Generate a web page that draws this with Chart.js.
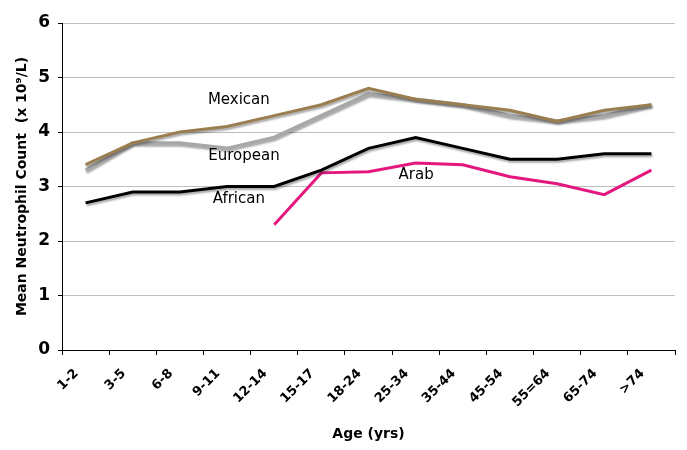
<!DOCTYPE html>
<html>
<head>
<meta charset="utf-8">
<script src="https://cdn.jsdelivr.net/npm/chart.js@4"></script>
<style>
  html, body { margin: 0; padding: 0; background: #fff; }
  #wrap { width: 687px; height: 450px; position: relative; }
</style>
</head>
<body>
<div id="wrap"><canvas id="chart"></canvas></div>
<script>
// Age groups along the x axis
const ageGroups = ['1-2', '3-5', '6-8', '9-11', '12-14', '15-17', '18-24',
  '25-34', '35-44', '45-54', '55=64', '65-74', '>74'];

// Mean neutrophil count (x 10^9/L) per group
const mexican  = [3.4, 3.8, 4.0, 4.1, 4.3, 4.5, 4.8, 4.6, 4.5, 4.4, 4.2, 4.4, 4.5];
const european = [3.3, 3.8, 3.8, 3.7, 3.9, 4.3, 4.7, 4.6, 4.5, 4.3, 4.2, 4.3, 4.5];
const african  = [2.7, 2.9, 2.9, 3.0, 3.0, 3.3, 3.7, 3.9, 3.7, 3.5, 3.5, 3.6, 3.6];
const arab     = [null, null, null, null, 2.3, 3.25, 3.27, 3.43, 3.4, 3.18, 3.05, 2.85, 3.3];

const yTicks = [0, 1, 2, 3, 4, 5, 6];

// series names written inside the plot, placed in data units (category index, value)
const seriesLabels = [
  { text: 'Mexican',  x: 3.25, y: 4.58 },
  { text: 'European', x: 3.36, y: 3.55 },
  { text: 'African',  x: 3.25, y: 2.77 },
  { text: 'Arab',     x: 7.01, y: 3.2 },
];

const FONT = '"DejaVu Sans", Verdana, sans-serif';

// soft drop shadow under the three upper lines, like the original
const lineShadow = {
  id: 'lineShadow',
  beforeDatasetDraw(chart, args) {
    if (args.index === 3) return;
    const ctx = chart.ctx;
    ctx.save();
    ctx.shadowColor = 'rgba(0,0,0,0.35)';
    ctx.shadowOffsetX = 1;
    ctx.shadowOffsetY = 2;
    ctx.shadowBlur = 2;
  },
  afterDatasetDraw(chart, args) {
    if (args.index === 3) return;
    chart.ctx.restore();
  }
};

const inlineLabels = {
  id: 'inlineLabels',
  afterDatasetsDraw(chart) {
    const { ctx, scales } = chart;
    ctx.save();
    ctx.font = '15px ' + FONT;
    ctx.fillStyle = '#000';
    ctx.textAlign = 'center';
    ctx.textBaseline = 'middle';
    seriesLabels.forEach(l => {
      ctx.fillText(l.text, scales.x.getPixelForValue(l.x), scales.y.getPixelForValue(l.y));
    });
    ctx.restore();
  }
};

function series(label, data, color, width) {
  return {
    label, data,
    borderColor: color,
    borderWidth: width,
    pointRadius: 0,
    tension: 0,
    fill: false,
    spanGaps: false,
  };
}

// first dataset is drawn on top
new Chart(document.getElementById('chart'), {
  type: 'line',
  data: {
    labels: ageGroups,
    datasets: [
      series('Mexican', mexican, '#9b7e4f', 3),
      series('European', european, '#a8a8a8', 3.5),
      series('African', african, '#000000', 3),
      series('Arab', arab, '#e3177f', 3),
    ]
  },
  options: {
    responsive: true,
    maintainAspectRatio: false,
    animation: false,
    // top has to beat the y tick label padding (half label + tick padding)
    layout: { padding: { top: 23, right: 12, bottom: 0, left: 0 } },
    plugins: {
      legend: { display: false },
      tooltip: { enabled: false },
    },
    scales: {
      x: {
        offset: true,
        grid: {
          offset: true,
          drawOnChartArea: false,
          tickLength: 5,
          tickColor: '#000',
        },
        border: { color: '#000', width: 1 },
        ticks: {
          minRotation: 45,
          maxRotation: 45,
          labelOffset: -9,
          padding: 11,
          color: '#000',
          font: { family: FONT, size: 13, weight: 'bold' },
        },
        title: {
          display: true,
          text: 'Age (yrs)',
          color: '#000',
          font: { family: FONT, size: 14, weight: 'bold' },
          padding: { top: 0, bottom: 7 },
        },
        afterFit(scale) { scale.height = 100; },
      },
      y: {
        min: 0,
        max: 6,
        afterBuildTicks(scale) { scale.ticks = yTicks.map(v => ({ value: v })); },
        grid: {
          color: '#bfbfbf',
          tickColor: '#000',
          tickLength: 4,
        },
        border: { color: '#000', width: 1 },
        ticks: {
          padding: 8,
          color: '#000',
          font: { family: FONT, size: 17, weight: 'bold' },
        },
        title: {
          display: true,
          text: 'Mean Neutrophil Count  (x 10\u2079/L)',
          color: '#000',
          font: { family: FONT, size: 14, weight: 'bold' },
          padding: { top: 14, bottom: 0 },
        },
        afterFit(scale) { scale.width = 62; },
      }
    }
  },
  plugins: [lineShadow, inlineLabels]
});
</script>
</body>
</html>
